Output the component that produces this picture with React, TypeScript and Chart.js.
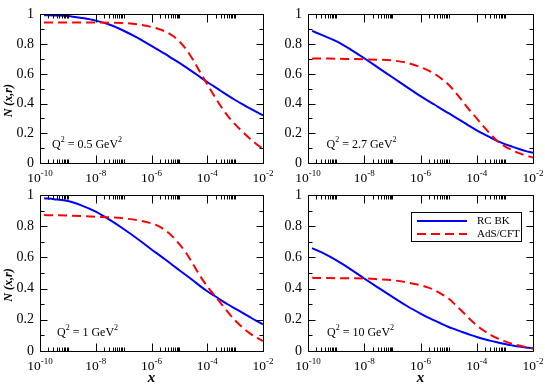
import React, { useEffect, useRef } from "react";
import { Chart, registerables } from "chart.js";

Chart.register(...registerables);

// ---- data ----
const xValues = [
  1.4e-10, 3.2e-10, 1e-9, 3.2e-9, 1e-8, 3.2e-8, 1e-7, 3.2e-7, 1e-6,
  1.8e-6, 3.2e-6, 5.6e-6, 1e-5, 1.8e-5, 3.2e-5, 5.6e-5, 1e-4,
  1.8e-4, 3.2e-4, 5.6e-4, 1e-3, 1.8e-3, 3.2e-3, 5.6e-3, 1e-2,
];

const rcbkQ05 = [0.995, 0.993, 0.99, 0.976, 0.958, 0.93, 0.89, 0.842, 0.788, 0.76, 0.732, 0.703, 0.674, 0.642, 0.61, 0.578, 0.545, 0.514, 0.483, 0.453, 0.424, 0.396, 0.37, 0.345, 0.32];
const adsQ05 = [0.946, 0.946, 0.946, 0.945, 0.945, 0.944, 0.942, 0.933, 0.915, 0.902, 0.884, 0.858, 0.818, 0.762, 0.69, 0.61, 0.53, 0.45, 0.377, 0.314, 0.26, 0.212, 0.168, 0.13, 0.095];

const rcbkQ27 = [0.889, 0.86, 0.82, 0.765, 0.705, 0.64, 0.577, 0.512, 0.45, 0.42, 0.392, 0.363, 0.335, 0.306, 0.277, 0.248, 0.22, 0.194, 0.17, 0.147, 0.127, 0.11, 0.094, 0.08, 0.068];
const adsQ27 = [0.704, 0.703, 0.702, 0.7, 0.698, 0.695, 0.69, 0.675, 0.645, 0.625, 0.6, 0.567, 0.527, 0.473, 0.413, 0.355, 0.3, 0.243, 0.19, 0.145, 0.112, 0.087, 0.066, 0.05, 0.037];

const rcbkQ1 = [0.979, 0.973, 0.961, 0.932, 0.893, 0.84, 0.782, 0.718, 0.651, 0.618, 0.585, 0.551, 0.518, 0.484, 0.45, 0.416, 0.383, 0.354, 0.325, 0.298, 0.272, 0.246, 0.22, 0.195, 0.171];
const adsQ1 = [0.871, 0.87, 0.868, 0.865, 0.861, 0.857, 0.85, 0.838, 0.818, 0.8, 0.772, 0.735, 0.685, 0.625, 0.553, 0.48, 0.415, 0.357, 0.302, 0.247, 0.196, 0.152, 0.116, 0.088, 0.064];

const rcbkQ10 = [0.66, 0.63, 0.582, 0.525, 0.465, 0.405, 0.347, 0.29, 0.24, 0.216, 0.195, 0.174, 0.154, 0.137, 0.12, 0.105, 0.09, 0.077, 0.065, 0.055, 0.045, 0.036, 0.028, 0.022, 0.017];
const adsQ10 = [0.469, 0.468, 0.467, 0.466, 0.465, 0.46, 0.454, 0.44, 0.422, 0.408, 0.39, 0.365, 0.336, 0.293, 0.25, 0.205, 0.165, 0.13, 0.102, 0.08, 0.062, 0.047, 0.035, 0.025, 0.016];

const seriesLabels = ["RC BK", "AdS/CFT"];
const q2Labels = ["0.5", "2.7", "1", "10"];
const xMajorExponents = [-10, -8, -6, -4, -2];
const yMajorTicks = [0, 0.2, 0.4, 0.6, 0.8, 1];
const yMinorTicks = [0.1, 0.3, 0.5, 0.7, 0.9];
const minorMultipliers = [2, 3, 4, 5, 6, 7, 8, 9, 10];
const yTitle = "N (x,r)";
const xTitle = "x";

const W = 545;
const H = 385;
const SERIF = '"Liberation Serif", "Times New Roman", serif';

type Part = { t: string; sup?: boolean };

function drawParts(
  ctx: CanvasRenderingContext2D,
  parts: Part[],
  x: number,
  y: number,
  size: number,
  supSize: number,
  raise: number,
  align: "left" | "center"
) {
  const font = (s: number) => `${s}px ${SERIF}`;
  let total = 0;
  const widths = parts.map((p) => {
    ctx.font = font(p.sup ? supSize : size);
    const w = ctx.measureText(p.t).width;
    total += w;
    return w;
  });
  let cx = align === "center" ? x - total / 2 : x;
  ctx.textAlign = "left";
  ctx.textBaseline = "alphabetic";
  parts.forEach((p, i) => {
    ctx.font = font(p.sup ? supSize : size);
    ctx.fillText(p.t, cx, p.sup ? y - raise : y);
    cx += widths[i];
  });
}

const decorPlugin = {
  id: "panelDecor",
  afterDatasetsDraw(chart: any) {
    const o = chart.options.plugins.panelDecor;
    const { ctx, chartArea: a, scales } = chart;
    const xs = scales.x;
    const ys = scales.y;
    const L = Math.round(a.left) + 0.5;
    const R = Math.round(a.right) + 0.5;
    const T = Math.round(a.top) + 0.5;
    const B = Math.round(a.bottom) + 0.5;
    ctx.save();
    ctx.strokeStyle = "#000";
    ctx.fillStyle = "#000";
    ctx.lineWidth = 1;
    ctx.setLineDash([]);
    ctx.beginPath();
    ctx.rect(L, T, R - L, B - T);
    const xTick = (v: number, len: number) => {
      const px = Math.round(xs.getPixelForValue(v)) + 0.5;
      ctx.moveTo(px, B);
      ctx.lineTo(px, B - len);
      ctx.moveTo(px, T);
      ctx.lineTo(px, T + len);
    };
    xMajorExponents.forEach((e) => xTick(Math.pow(10, e), 8));
    xMajorExponents.slice(0, -1).forEach((e) =>
      minorMultipliers.forEach((k) => xTick(k * Math.pow(10, e), 4))
    );
    const yTick = (v: number, len: number) => {
      const py = Math.round(ys.getPixelForValue(v)) + 0.5;
      ctx.moveTo(L, py);
      ctx.lineTo(L + len, py);
      ctx.moveTo(R, py);
      ctx.lineTo(R - len, py);
    };
    yMajorTicks.forEach((v) => yTick(v, 7));
    yMinorTicks.forEach((v) => yTick(v, 4));
    ctx.stroke();

    // x tick labels: 10^e
    xMajorExponents.forEach((e) => {
      const px = xs.getPixelForValue(Math.pow(10, e));
      drawParts(ctx, [{ t: "10" }, { t: String(e), sup: true }], px, a.bottom + 19, 13.5, 9, 6, "center");
    });

    // Q^2 annotation
    drawParts(
      ctx,
      [{ t: "Q" }, { t: "2", sup: true }, { t: ` = ${o.q2} GeV` }, { t: "2", sup: true }],
      a.left + o.qOffset,
      a.bottom - 15,
      12,
      8,
      6,
      "left"
    );

    // axis titles
    if (o.yTitle) {
      ctx.save();
      ctx.font = `bold italic 12px ${SERIF}`;
      ctx.translate(9, (a.top + a.bottom) / 2 + 12);
      ctx.rotate(-Math.PI / 2);
      ctx.textAlign = "center";
      ctx.textBaseline = "middle";
      ctx.fillText(yTitle, 0, 0);
      ctx.restore();
    }
    if (o.xTitle) {
      ctx.font = `bold italic 15px ${SERIF}`;
      ctx.textAlign = "center";
      ctx.textBaseline = "alphabetic";
      ctx.fillText(xTitle, (a.left + a.right) / 2, 382);
    }

    // legend
    if (o.legend) {
      const ds = chart.data.datasets;
      const bx = a.left + 103;
      const by = a.top + 17;
      const bw = 110;
      const bh = 29;
      ctx.fillStyle = "#fff";
      ctx.fillRect(bx, by, bw, bh);
      ctx.strokeStyle = "#000";
      ctx.lineWidth = 1;
      ctx.strokeRect(Math.round(bx) + 0.5, Math.round(by) + 0.5, bw, bh);
      const rows = seriesLabels.map((lab) => ds.find((d: any) => d.label === lab));
      rows.forEach((d: any, i: number) => {
        const ly = by + 9 + i * 13;
        ctx.strokeStyle = d.borderColor;
        ctx.lineWidth = 2;
        ctx.setLineDash(d.borderDash || []);
        ctx.beginPath();
        ctx.moveTo(bx + 6, ly);
        ctx.lineTo(bx + 56, ly);
        ctx.stroke();
        ctx.setLineDash([]);
        ctx.fillStyle = "#000";
        ctx.font = `11px ${SERIF}`;
        ctx.textAlign = "left";
        ctx.textBaseline = "middle";
        ctx.fillText(d.label, bx + 66, ly + 0.5);
      });
    }
    ctx.restore();
  },
};

type PanelCfg = {
  area: { l: number; r: number; t: number; b: number };
  rcbk: number[];
  ads: number[];
  q2: string;
  qOffset: number;
  yTitle: boolean;
  xTitle: boolean;
  legend: boolean;
};

const panels: PanelCfg[] = [
  { area: { l: 40, r: 263, t: 6, b: 163 }, rcbk: rcbkQ05, ads: adsQ05, q2: q2Labels[0], qOffset: 12, yTitle: true, xTitle: false, legend: false },
  { area: { l: 308, r: 533, t: 6, b: 163 }, rcbk: rcbkQ27, ads: adsQ27, q2: q2Labels[1], qOffset: 18.5, yTitle: false, xTitle: false, legend: false },
  { area: { l: 40, r: 263, t: 195, b: 351 }, rcbk: rcbkQ1, ads: adsQ1, q2: q2Labels[2], qOffset: 17, yTitle: true, xTitle: true, legend: false },
  { area: { l: 308, r: 533, t: 195, b: 351 }, rcbk: rcbkQ10, ads: adsQ10, q2: q2Labels[3], qOffset: 19, yTitle: false, xTitle: true, legend: true },
];

function Panel({ cfg }: { cfg: PanelCfg }) {
  const ref = useRef<HTMLCanvasElement | null>(null);
  useEffect(() => {
    if (!ref.current) return;
    const Y_W = 40;
    const toPts = (ys: number[]) => xValues.map((x, i) => ({ x, y: ys[i] }));
    const chart = new Chart(ref.current, {
      type: "line",
      data: {
        datasets: [
          {
            label: seriesLabels[1],
            data: toPts(cfg.ads),
            borderColor: "#ff0000",
            borderWidth: 2,
            borderDash: [9, 5],
            pointRadius: 0,
            fill: false,
            cubicInterpolationMode: "monotone",
            order: 0,
          },
          {
            label: seriesLabels[0],
            data: toPts(cfg.rcbk),
            borderColor: "#0000ff",
            borderWidth: 2,
            pointRadius: 0,
            fill: false,
            cubicInterpolationMode: "monotone",
            order: 1,
          },
        ],
      },
      options: {
        responsive: false,
        animation: false,
        events: [],
        layout: {
          padding: {
            left: cfg.area.l - Y_W,
            right: W - cfg.area.r,
            top: cfg.area.t,
            bottom: H - cfg.area.b,
          },
        },
        scales: {
          x: { type: "logarithmic", min: 1e-10, max: 1e-2, display: false },
          y: {
            type: "linear",
            min: 0,
            max: 1,
            afterFit: (s: any) => {
              s.width = Y_W;
            },
            grid: { display: false, drawTicks: false },
            border: { display: false },
            ticks: {
              stepSize: 0.2,
              padding: 6,
              color: "#000",
              font: { family: SERIF, size: 14 },
              callback: (v: any) => String(Math.round(Number(v) * 10) / 10),
            },
          },
        },
        plugins: {
          legend: { display: false },
          tooltip: { enabled: false },
          panelDecor: {
            q2: cfg.q2,
            qOffset: cfg.qOffset,
            yTitle: cfg.yTitle,
            xTitle: cfg.xTitle,
            legend: cfg.legend,
          },
        } as any,
      },
      plugins: [decorPlugin],
    } as any);
    return () => chart.destroy();
  }, [cfg]);
  return (
    <canvas
      ref={ref}
      width={W}
      height={H}
      style={{ position: "absolute", left: 0, top: 0, width: W, height: H }}
    />
  );
}

export default function App() {
  return (
    <div style={{ position: "fixed", left: 0, top: 0, width: W, height: H, background: "#fff", overflow: "hidden" }}>
      {panels.map((p, i) => (
        <Panel key={i} cfg={p} />
      ))}
    </div>
  );
}
